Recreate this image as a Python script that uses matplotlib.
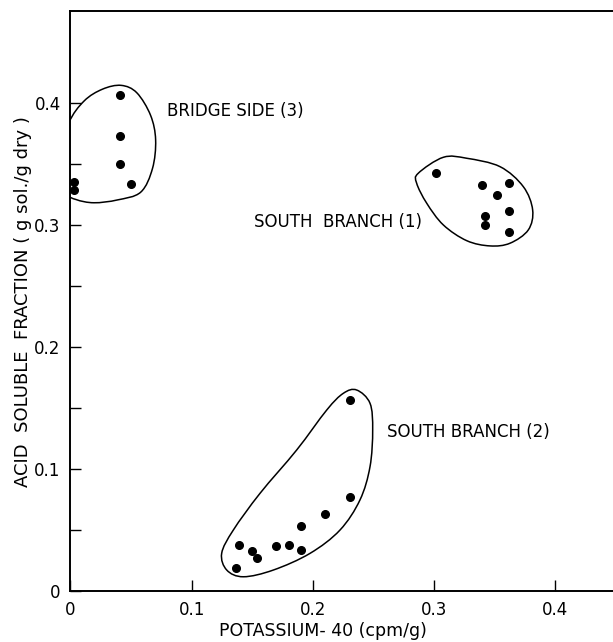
import numpy as np
import matplotlib
matplotlib.use("Agg")
import matplotlib.pyplot as plt
from matplotlib.path import Path
from matplotlib.patches import PathPatch

# acid soluble fraction vs potassium-40, three sampling groups
bridge_x = [0.0026, 0.0026, 0.0413, 0.0413, 0.0413, 0.050]
bridge_y = [0.3356, 0.329, 0.407, 0.3735, 0.3507, 0.334]

south1_x = [0.302, 0.340, 0.3516, 0.3616, 0.3616, 0.3616, 0.342, 0.342]
south1_y = [0.343, 0.333, 0.3248, 0.3349, 0.3114, 0.2946, 0.3074, 0.3003]

south2_x = [0.2306, 0.2306, 0.2097, 0.1903, 0.1903, 0.1806, 0.170, 0.150, 0.1539, 0.1387, 0.137]
south2_y = [0.1567, 0.0768, 0.0628, 0.053, 0.0339, 0.0376, 0.0369, 0.0326, 0.0272, 0.0376, 0.0191]

# hand drawn loops round each group (control points)
bridge_loop = [(-0.0016, 0.3836), (0.0113, 0.402), (0.0265, 0.4117), (0.0419, 0.4148),
               (0.0548, 0.4087), (0.0661, 0.3903), (0.0703, 0.3701), (0.0677, 0.3466),
               (0.058, 0.3272), (0.0387, 0.3208), (0.0194, 0.3185), (0.0048, 0.3211),
               (-0.003, 0.3265), (-0.012, 0.35)]
south1_loop = [(0.287, 0.3427), (0.3077, 0.3558), (0.327, 0.355), (0.3545, 0.3481),
               (0.3737, 0.3317), (0.3814, 0.3126), (0.3778, 0.2962), (0.3627, 0.2853),
               (0.3462, 0.2831), (0.327, 0.2874), (0.3077, 0.3003), (0.294, 0.3181),
               (0.2857, 0.3345)]
south2_loop = [(0.2362, 0.1649), (0.2472, 0.154), (0.2494, 0.1321), (0.2472, 0.102),
               (0.2389, 0.0747), (0.2224, 0.05), (0.1977, 0.0309), (0.1674, 0.0172),
               (0.1427, 0.0117), (0.129, 0.0172), (0.1248, 0.0309), (0.1344, 0.05),
               (0.1564, 0.0801), (0.1867, 0.1157), (0.2115, 0.1485), (0.2252, 0.1622)]

labels = ["BRIDGE SIDE (3)", "SOUTH  BRANCH (1)", "SOUTH BRANCH (2)"]
label_pos = [(0.080, 0.3934), (0.1515, 0.303), (0.2612, 0.1304)]


def loop_path(pts):
    # closed catmull-rom turned into cubic bezier segments
    p = np.array(pts)
    n = len(p)
    verts = [p[0]]
    codes = [Path.MOVETO]
    for i in range(n):
        p0, p1, p2, p3 = p[i - 1], p[i], p[(i + 1) % n], p[(i + 2) % n]
        verts += [p1 + (p2 - p0) / 6, p2 - (p3 - p1) / 6, p2]
        codes += [Path.CURVE4] * 3
    return Path(verts, codes)


fig = plt.figure(figsize=(6.13, 6.42), dpi=100)
ax = fig.add_axes([0.1149, 0.0794, 0.8851, 0.9027])

for xs, ys in [(bridge_x, bridge_y), (south1_x, south1_y), (south2_x, south2_y)]:
    ax.plot(xs, ys, 'o', color='black', ms=5.5, mec='black')

for loop in [bridge_loop, south1_loop, south2_loop]:
    ax.add_patch(PathPatch(loop_path(loop), fill=False, ec='black', lw=1.1))

for txt, (tx, ty) in zip(labels, label_pos):
    ax.text(tx, ty, txt, fontsize=12, va='center', ha='left')

ax.set_xlim(0, 0.4477)
ax.set_ylim(0, 0.4754)
ax.set_xticks([0, 0.1, 0.2, 0.3, 0.4])
ax.set_xticklabels(["0", "0.1", "0.2", "0.3", "0.4"])
ax.set_yticks([0, 0.1, 0.2, 0.3, 0.4])
ax.set_yticklabels(["0", "0.1", "0.2", "0.3", "0.4"])
ax.set_yticks([0.05, 0.15, 0.25, 0.35], minor=True)
ax.tick_params(axis='both', which='both', direction='in', length=8, width=1,
               labelsize=12, pad=7)
ax.spines['right'].set_visible(False)
for s in ['left', 'bottom', 'top']:
    ax.spines[s].set_linewidth(1.4)

ax.set_xlabel("POTASSIUM- 40 (cpm/g)", fontsize=12.5, va='center')
ax.xaxis.set_label_coords(0.4648, -0.069)
ax.set_ylabel("ACID  SOLUBLE  FRACTION ( g sol./g dry )", fontsize=13, va='center')
ax.yaxis.set_label_coords(-0.088, 0.5)

fig.savefig("out.png", dpi=100)
